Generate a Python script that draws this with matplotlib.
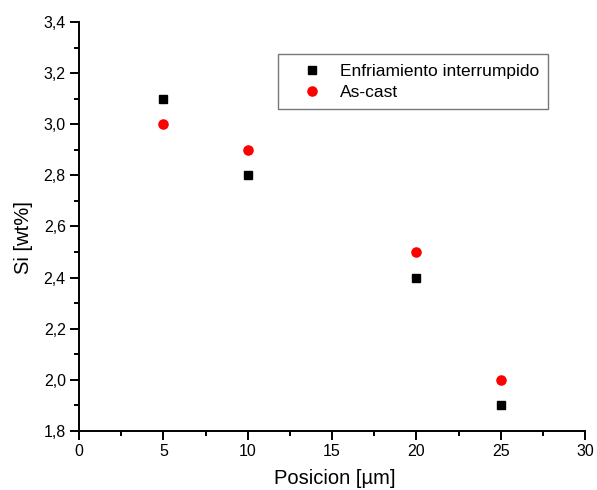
import matplotlib
matplotlib.use("Agg")
import matplotlib.pyplot as plt
from matplotlib.ticker import MultipleLocator, FormatStrFormatter

plt.rcParams['font.family'] = ['Liberation Sans', 'DejaVu Sans']

posicion = [5, 10, 20, 25]
si_enfriamiento = [3.1, 2.8, 2.4, 1.9]
si_ascast = [3.0, 2.9, 2.5, 2.0]

fig = plt.figure(figsize=(5.97, 4.90), dpi=100)
ax = fig.add_axes([79 / 597, 1 - 431 / 490, (585 - 79) / 597, (431 - 22) / 490])

ax.plot(posicion, si_enfriamiento, linestyle='none', marker='s', markersize=6.3,
        color='black', label='Enfriamiento interrumpido')
ax.plot(posicion, si_ascast, linestyle='none', marker='o', markersize=7.6,
        color='#ff0000', markeredgewidth=0, label='As-cast')

ax.set_xlim(0, 30)
ax.set_ylim(1.8, 3.4)
ax.xaxis.set_major_locator(MultipleLocator(5))
ax.xaxis.set_minor_locator(MultipleLocator(2.5))
ax.yaxis.set_major_locator(MultipleLocator(0.2))
ax.yaxis.set_minor_locator(MultipleLocator(0.1))

def comma_fmt(v, pos):
    return f"{v:.1f}".replace('.', ',')

ax.yaxis.set_major_formatter(plt.FuncFormatter(comma_fmt))
ax.xaxis.set_major_formatter(FormatStrFormatter('%d'))

for s in ['top', 'right']:
    ax.spines[s].set_visible(False)
for s in ['left', 'bottom']:
    ax.spines[s].set_linewidth(1.4)

ax.tick_params(which='major', direction='out', length=6.5, width=1.4, labelsize=11.5, pad=3)
ax.tick_params(which='minor', direction='out', length=3.6, width=1.4)

ax.set_xlabel('Posicion [µm]', fontsize=14.5)
ax.set_ylabel('Si [wt%]', fontsize=14.5)
ax.xaxis.set_label_coords(0.505, -0.093)
ax.yaxis.set_label_coords(-0.09, 0.472)

leg = ax.legend(loc='upper left', bbox_to_anchor=((278 - 79) / 506, 1 - (54 - 22) / 409),
                fontsize=12.5, frameon=True, fancybox=False, borderaxespad=0,
                handletextpad=0.2, borderpad=0.55, labelspacing=0.35, handlelength=2.8)
leg.get_frame().set_edgecolor('#555555')
leg.get_frame().set_linewidth(1.0)

fig.savefig('out.png', dpi=100)
